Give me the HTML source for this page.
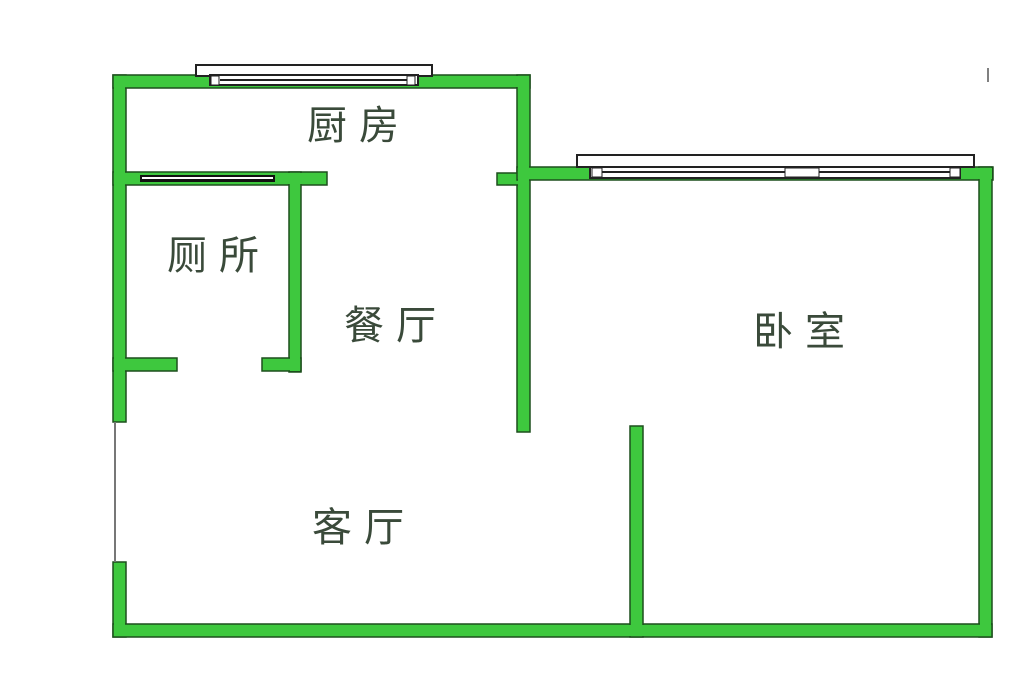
<!DOCTYPE html>
<html><head><meta charset="utf-8"><style>
html,body{margin:0;padding:0;background:#fff;}
svg{display:block}
text{font-family:"Liberation Sans","Noto Sans CJK SC",sans-serif;fill:#3a4a3a;font-size:40px;letter-spacing:12px}
</style></head><body>
<svg width="1024" height="700" viewBox="0 0 1024 700">
<g fill="#3ec83e" stroke="#1d4f1d" stroke-width="1.5">
<rect x="113" y="75" width="13" height="347"/>
<rect x="113" y="562" width="13" height="75"/>
<rect x="113" y="75" width="417" height="13"/>
<rect x="517" y="75" width="13" height="357"/>
<rect x="497" y="173" width="22" height="12"/>
<rect x="517" y="167" width="476" height="13"/>
<rect x="979" y="167" width="13" height="470"/>
<rect x="113" y="624" width="879" height="13"/>
<rect x="630" y="426" width="13" height="211"/>
<rect x="113" y="172" width="214" height="13"/>
<rect x="289" y="172" width="12" height="200"/>
<rect x="113" y="358" width="64" height="13"/>
<rect x="262" y="358" width="39" height="13"/>
</g>
<g fill="#3ec83e">
<rect x="114" y="76" width="11" height="345"/>
<rect x="114" y="76" width="415" height="11"/>
<rect x="518" y="76" width="11" height="355"/>
<rect x="518" y="168" width="474" height="11"/>
<rect x="980" y="168" width="11" height="468"/>
<rect x="114" y="625" width="877" height="11"/>
<rect x="631" y="427" width="11" height="209"/>
<rect x="114" y="173" width="212" height="11"/>
<rect x="290" y="173" width="10" height="198"/>
<rect x="114" y="359" width="62" height="11"/>
<rect x="263" y="359" width="37" height="11"/>
<rect x="114" y="563" width="11" height="73"/>
</g>
<rect x="140" y="175" width="135" height="7" fill="#111"/>
<rect x="142" y="177" width="131" height="2" fill="#fff"/>
<line x1="115" y1="422" x2="115" y2="562" stroke="#777" stroke-width="2"/>
<g stroke="#222" stroke-width="2" fill="#fff">
<rect x="196" y="65" width="236" height="11"/>
<rect x="210" y="75" width="208" height="10"/>
</g>
<line x1="220" y1="80" x2="408" y2="80" stroke="#222" stroke-width="2"/>
<rect x="211" y="76" width="8" height="9" fill="#fff" stroke="#222"/>
<rect x="407" y="76" width="8" height="9" fill="#fff" stroke="#222"/>
<g stroke="#222" stroke-width="2" fill="#fff">
<rect x="577" y="155" width="397" height="12"/>
<rect x="590" y="167" width="370" height="11"/>
</g>
<line x1="600" y1="172" x2="950" y2="172" stroke="#222" stroke-width="2"/>
<rect x="592" y="168" width="10" height="9" fill="#fff" stroke="#222"/>
<rect x="785" y="168" width="34" height="9" fill="#fff" stroke="#222"/>
<rect x="950" y="168" width="10" height="9" fill="#fff" stroke="#222"/>
<text x="307" y="139">厨房</text>
<text x="167" y="269">厕所</text>
<text x="344" y="339">餐厅</text>
<text x="753" y="345">卧室</text>
<text x="312" y="541">客厅</text>
<line x1="988" y1="68" x2="988" y2="82" stroke="#555" stroke-width="1.5"/>
</svg>
</body></html>
